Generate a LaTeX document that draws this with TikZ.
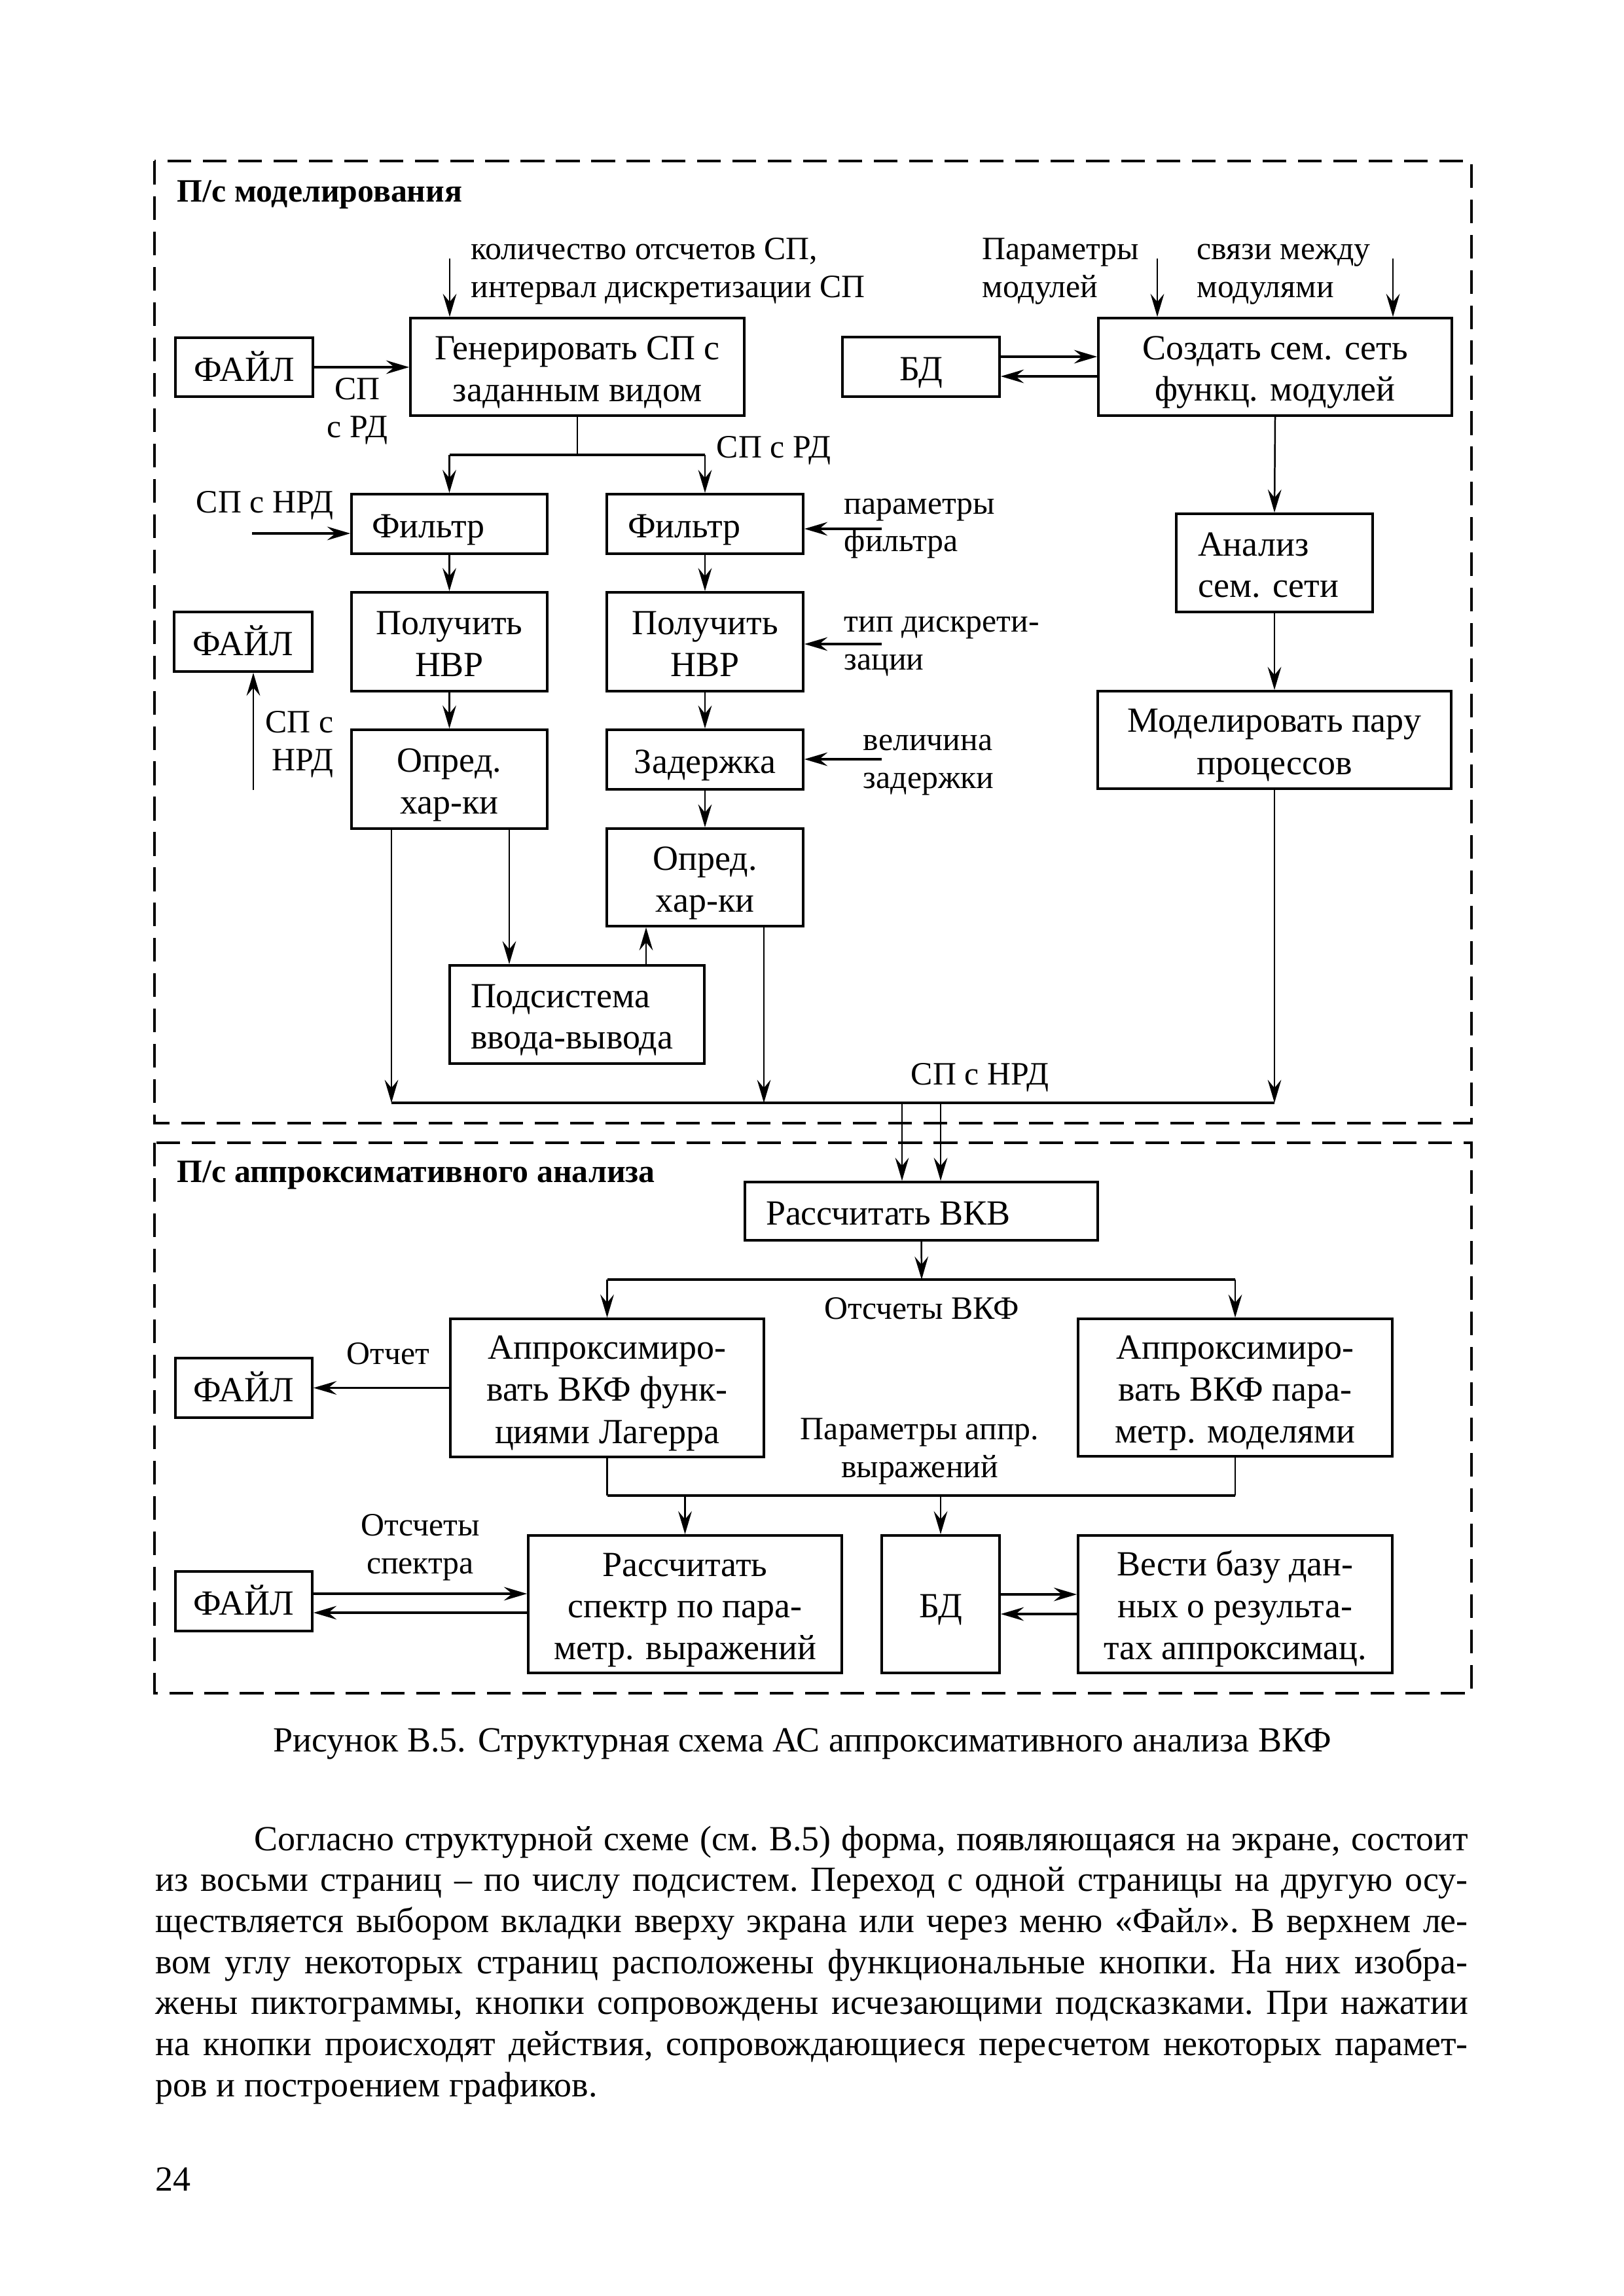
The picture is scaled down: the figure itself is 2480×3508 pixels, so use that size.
\documentclass[tikz,border=0pt]{standalone}
\usepackage{fontspec}
\setmainfont{Liberation Serif}
\usepackage{array}
\usetikzlibrary{arrows.meta}

\newdimen\pxu \pxu=0.24088pt
% struts: box rows 63px, label rows 58px
\newcommand{\bxs}{\rule[-2.53pt]{0pt}{15.18pt}}
\newcommand{\lbs}{\rule[-3.9pt]{0pt}{13.97pt}}
\newcommand{\boxT}[2]{{\renewcommand{\arraystretch}{0}\begin{tabular}{@{}>{\bxs}#1@{}}#2\end{tabular}}}
\newcommand{\boxC}[1]{\boxT{c}{#1}}
\newcommand{\boxL}[2]{\makebox[0pt][l]{\hspace*{-#1\pxu}\boxT{l}{#2}}}
\newcommand{\labT}[2]{{\renewcommand{\arraystretch}{0}\begin{tabular}[t]{@{}>{\lbs}#1@{}}#2\end{tabular}}}

\tikzset{
  blk/.style={draw, line width=0.9pt, inner sep=0pt},
  corners/.style n args={4}{at={({(#1+#3)/2},{(#2+#4)/2})},
    minimum width={(#3-#1)*0.24088pt}, minimum height={(#4-#2)*0.24088pt}},
  lab/.style={inner sep=0pt, font=\fontsize{12pt}{13.97pt}\selectfont},
  txt/.style={inner sep=0pt},
  conn/.style={line width=0.6pt},
  thk/.style={line width=0.85pt},
  arw/.style={-{Stealth[length=8.5pt,width=5pt,inset=3pt]}},
  dashframe/.style={line width=1pt, dash pattern=on 8.7pt off 4.3pt},
  ttl/.style={inner sep=0pt, font=\fontsize{12pt}{14pt}\selectfont\bfseries}
}

\begin{document}
\begin{tikzpicture}[x=0.24088pt, y=-0.24088pt, font=\fontsize{13pt}{15.18pt}\selectfont]
\useasboundingbox (0,0) rectangle (2480,3508);
\fill[white] (0,0) rectangle (2480,3508);

% frames
\draw[dashframe] (236,246) rectangle (2248,1716);
\draw[dashframe] (236,1746) rectangle (2248,2587);
\node[ttl, anchor=base west] (t1) at (270,309) {П/с моделирования};
\node[ttl, anchor=base west] (t2) at (270,1806) {П/с аппроксимативного анализа};

% boxes upper
\node[blk, corners={268}{516}{478}{606}] (file1) {\boxC{ФАЙЛ}};
\node[blk, corners={627}{486}{1137}{635}] (gen) {\boxC{Генерировать СП с\\заданным видом}};
\node[blk, corners={1287}{515}{1527}{606}] (bd1) {\boxC{БД}};
\node[blk, corners={1678}{486}{2218}{635}] (create) {\boxC{Создать сем. сеть\\функц. модулей}};
\node[blk, corners={537}{755}{836}{846}] (filt1) {\boxL{118.5}{Фильтр}};
\node[blk, corners={927}{755}{1227}{846}] (filt2) {\boxL{118}{Фильтр}};
\node[blk, corners={266}{935}{477}{1026}] (file2) {\boxC{ФАЙЛ}};
\node[blk, corners={537}{905}{836}{1056}] (nvr1) {\boxC{Получить\\НВР}};
\node[blk, corners={927}{905}{1227}{1056}] (nvr2) {\boxC{Получить\\НВР}};
\node[blk, corners={1797}{785}{2097}{935}] (anal) {\boxL{117}{Анализ\\сем. сети}};
\node[blk, corners={537}{1115}{836}{1266}] (opr1) {\boxC{Опред.\\хар-ки}};
\node[blk, corners={927}{1115}{1227}{1206}] (zad) {\boxC{Задержка}};
\node[blk, corners={1677}{1056}{2217}{1205}] (model) {\boxC{Моделировать пару\\процессов}};
\node[blk, corners={927}{1266}{1227}{1415}] (opr2) {\boxC{Опред.\\хар-ки}};
\node[blk, corners={687}{1475}{1076}{1625}] (podsys) {\boxL{162.5}{Подсистема\\ввода-вывода}};

% boxes lower
\node[blk, corners={1138}{1806}{1677}{1895}] (vkv) {\boxL{237.5}{Рассчитать ВКВ}};
\node[blk, corners={688}{2015}{1167}{2226}] (appr1) {\boxC{Аппроксимиро-\\вать ВКФ функ-\\циями Лагерра}};
\node[blk, corners={1647}{2015}{2127}{2225}] (appr2) {\boxC{Аппроксимиро-\\вать ВКФ пара-\\метр. моделями}};
\node[blk, corners={268}{2075}{477}{2166}] (file3) {\boxC{ФАЙЛ}};
\node[blk, corners={807}{2346}{1286}{2556}] (spec) {\boxC{Рассчитать\\спектр по пара-\\метр. выражений}};
\node[blk, corners={1347}{2346}{1527}{2556}] (bd2) {\boxC{БД}};
\node[blk, corners={1647}{2346}{2127}{2556}] (vesti) {\boxC{Вести базу дан-\\ных о результа-\\тах аппроксимац.}};
\node[blk, corners={268}{2401}{477}{2492}] (file4) {\boxC{ФАЙЛ}};

% labels
\node[lab, anchor=base west] (lb1) at (719,397) {\labT{l}{количество отсчетов СП,\\интервал дискретизации СП}};
\node[lab, anchor=base] (lb2) at (546,611) {\labT{c}{СП\\с РД}};
\node[lab, anchor=base west] (lb3) at (1094,700) {СП с РД};
\node[lab, anchor=base west] (lb4) at (299,783) {СП с НРД};
\node[lab, anchor=base west] (lb5) at (1289,785) {\labT{l}{параметры\\фильтра}};
\node[lab, anchor=base west] (lb6) at (1289,965) {\labT{l}{тип дискрети-\\зации}};
\node[lab, anchor=base west] (lb7) at (1318,1146) {\labT{l}{величина\\задержки}};
\node[lab, anchor=base east] (lb8) at (510,1119) {\labT{r}{СП с\\НРД}};
\node[lab, anchor=base west] (lb9) at (1500,397) {\labT{l}{Параметры\\модулей}};
\node[lab, anchor=base west] (lb10) at (1828,397) {\labT{l}{связи между\\модулями}};
\node[lab, anchor=base west] (lb11) at (1391,1657) {СП с НРД};
\node[lab, anchor=base] (lb12) at (1408,2015) {Отсчеты ВКФ};
\node[lab, anchor=base west] (lb13) at (529,2084) {Отчет};
\node[lab, anchor=base] (lb14) at (1405,2199) {\labT{c}{Параметры аппр.\\выражений}};
\node[lab, anchor=base] (lb15) at (642,2346) {\labT{c}{Отсчеты\\спектра}};

% helper coordinates
\coordinate (in1) at (687,395);
\coordinate (in2) at (1768,395);
\coordinate (in3) at (2128,395);
\coordinate (yA) at (0,545);
\coordinate (yB) at (0,575);
\coordinate (sp1) at (882,695);
\coordinate (nrd1) at (385,815);
\coordinate (pf) at (1347,808);
\coordinate (td) at (1347,984);
\coordinate (vz) at (1347,1160);
\coordinate (f2) at (387,1207);
\coordinate (x1) at (778,0);
\coordinate (x2) at (987,0);
\coordinate (busL) at (598,1685);
\coordinate (busR) at (1947,1685);
\coordinate (x3) at (1167,0);
\coordinate (x4) at (1378,0);
\coordinate (x5) at (1437,0);
\coordinate (sp2) at (1408,1955);
\coordinate (sp3) at (0,2285);
\coordinate (yC) at (0,2435);
\coordinate (yD) at (0,2464);
\coordinate (yE) at (0,2436);
\coordinate (yF) at (0,2466);

% upper connectors
\draw[conn,arw] (in1) -- (in1 |- gen.north);
\draw[conn,arw] (in2) -- (in2 |- create.north);
\draw[conn,arw] (in3) -- (in3 |- create.north);
\draw[thk,arw] (file1.east) -- (gen.west |- file1.east);
\draw[thk,arw] (bd1.east |- yA) -- (create.west |- yA);
\draw[thk,arw] (create.west |- yB) -- (bd1.east |- yB);
\draw[conn] (gen.south) -- (sp1);
\draw[thk] (filt1.north |- sp1) -- (filt2.north |- sp1);
\draw[conn,arw] (filt1.north |- sp1) -- (filt1.north);
\draw[conn,arw] (filt2.north |- sp1) -- (filt2.north);
\draw[thk,arw] (nrd1) -- (nrd1 -| filt1.west);
\draw[thk,arw] (pf) -- (pf -| filt2.east);
\draw[thk,arw] (td) -- (td -| nvr2.east);
\draw[thk,arw] (vz) -- (vz -| zad.east);
\draw[conn,arw] (filt1.south) -- (nvr1.north);
\draw[conn,arw] (filt2.south) -- (nvr2.north);
\draw[conn,arw] (nvr1.south) -- (opr1.north);
\draw[conn,arw] (nvr2.south) -- (zad.north);
\draw[conn,arw] (zad.south) -- (opr2.north);
\draw[conn,arw] (f2) -- (f2 |- file2.south);
\draw[conn,arw] (opr1.south -| x1) -- (podsys.north -| x1);
\draw[conn,arw] (podsys.north -| x2) -- (opr2.south -| x2);
\draw[conn,arw] (create.south) -- (anal.north);
\draw[conn,arw] (anal.south) -- (model.north);
\draw[thk] (busL) -- (busR);
\draw[conn,arw] (opr1.south -| busL) -- (busL);
\draw[conn,arw] (opr2.south -| x3) -- (x3 |- busL);
\draw[conn,arw] (model.south) -- (busR);
\draw[conn,arw] (x4 |- busL) -- (x4 |- vkv.north);
\draw[conn,arw] (x5 |- busL) -- (x5 |- vkv.north);

% lower connectors
\draw[conn,arw] (vkv.south) -- (sp2);
\draw[thk] (appr1.north |- sp2) -- (appr2.north |- sp2);
\draw[conn,arw] (appr1.north |- sp2) -- (appr1.north);
\draw[conn,arw] (appr2.north |- sp2) -- (appr2.north);
\draw[thk,arw] (appr1.west) -- (file3.east |- appr1.west);
\draw[conn] (appr1.south) -- (appr1.south |- sp3);
\draw[conn] (appr2.south) -- (appr2.south |- sp3);
\draw[thk] (appr1.south |- sp3) -- (appr2.south |- sp3);
\draw[conn,arw] (spec.north |- sp3) -- (spec.north);
\draw[conn,arw] (bd2.north |- sp3) -- (bd2.north);
\draw[thk,arw] (file4.east |- yC) -- (spec.west |- yC);
\draw[thk,arw] (spec.west |- yD) -- (file4.east |- yD);
\draw[thk,arw] (bd2.east |- yE) -- (vesti.west |- yE);
\draw[thk,arw] (vesti.west |- yF) -- (bd2.east |- yF);

% caption, text, page number
\node[txt, anchor=base] (cap) at (1226,2676) {Рисунок В.5. Структурная схема АС аппроксимативного анализа ВКФ};
\node[txt, anchor=base west] (para) at (237,2827) {\begin{minipage}[t]{482.96pt}\fontsize{13pt}{15.1pt}\selectfont\frenchspacing\setlength{\parindent}{36.4pt}\tolerance=10000\emergencystretch=20pt
Согласно структурной схеме (см. В.5) форма, появляющаяся на экране, состоит\linebreak
из восьми страниц – по числу подсистем. Переход с одной страницы на другую осу-\linebreak
ществляется выбором вкладки вверху экрана или через меню «Файл». В верхнем ле-\linebreak
вом углу некоторых страниц расположены функциональные кнопки. На них изобра-\linebreak
жены пиктограммы, кнопки сопровождены исчезающими подсказками. При нажатии\linebreak
на кнопки происходят действия, сопровождающиеся пересчетом некоторых парамет-\linebreak
ров и построением графиков.
\end{minipage}};
\node[txt, anchor=base west] (pg) at (237,3347) {24};
\end{tikzpicture}
\end{document}
